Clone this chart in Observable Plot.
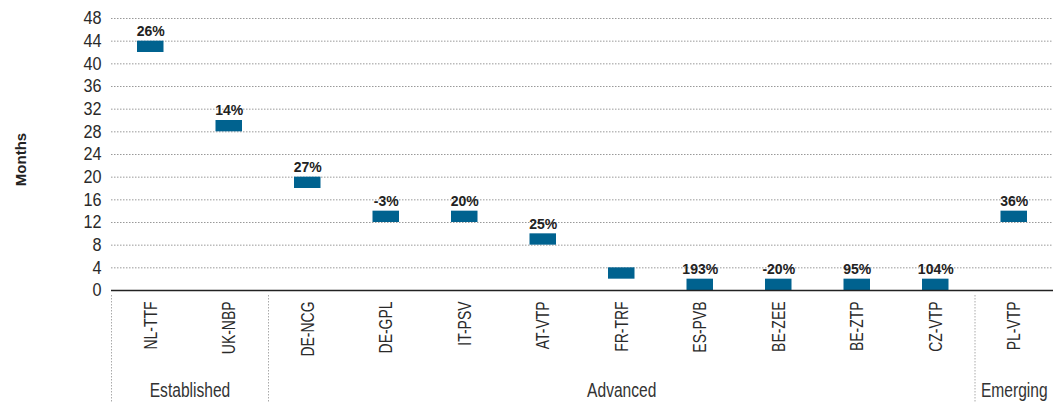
<!DOCTYPE html>
<html>
<head>
<meta charset="utf-8">
<script src="https://cdn.jsdelivr.net/npm/d3@7"></script>
<script src="https://cdn.jsdelivr.net/npm/@observablehq/plot@0.6"></script>
<style>
  html, body { margin: 0; padding: 0; background: #fff; }
  #chart svg { display: block; }
</style>
</head>
<body>
<div id="chart"></div>
<script>
// ---- data ----
const hubs = ["NL-TTF","UK-NBP","DE-NCG","DE-GPL","IT-PSV","AT-VTP","FR-TRF","ES-PVB","BE-ZEE","BE-ZTP","CZ-VTP","PL-VTP"];
const lowMonths  = [42, 28, 18, 12, 12, 8, 2, 0, 0, 0, 0, 12];
const highMonths = [44, 30, 20, 14, 14, 10, 4, 2, 2, 2, 2, 14];
const changeLabels = ["26%","14%","27%","-3%","20%","25%","","193%","-20%","95%","104%","36%"];
const groupNames = ["Established","Advanced","Emerging"];
const groupFirst = ["NL-TTF","DE-NCG","PL-VTP"];
const groupSize = [2, 9, 1];
const yTicks = [0,4,8,12,16,20,24,28,32,36,40,44,48];

const data = hubs.map((h, i) => ({hub: h, low: lowMonths[i], high: highMonths[i], label: changeLabels[i]}));

// ---- layout ----
const W = 1053, H = 403;
const mL = 111, mR = 0, mT = 18, mB = 113;
const step = (W - mL - mR) / hubs.length;
const frameH = H - mT - mB;
const FONT = '"Liberation Sans", Arial, sans-serif';
const BLUE = "#00628f";

const groupMarks = groupNames.map((g, i) => Plot.text([groupFirst[i]], {
  x: d => d, text: () => g, frameAnchor: "bottom", lineAnchor: "middle", dy: 100,
  dx: (groupSize[i] / 2 - 0.5) * step, fontSize: 20.5, fill: "#333"
}));

const plot = Plot.plot({
  width: W, height: H,
  marginLeft: mL, marginRight: mR, marginTop: mT, marginBottom: mB,
  style: {fontFamily: FONT, color: "#2a2a2a", background: "#fff"},
  x: {type: "band", domain: hubs, padding: 0, round: false, label: null},
  y: {domain: [0, 48], label: null},
  marks: [
    Plot.gridY(yTicks.filter(t => t > 0), {stroke: "#999", strokeOpacity: 1, strokeDasharray: "1.5,1.5"}),
    Plot.axisY(yTicks, {tickSize: 0, tickPadding: 10, fontSize: 18, label: null}),
    Plot.axisX({tickSize: 0, tickPadding: 11, tickRotate: -90, fontSize: 18.6, label: null}),
    Plot.ruleX(groupFirst, {x: d => d, dx: -step / 2, insetTop: frameH + 5, insetBottom: -mB,
      stroke: "#aaa", strokeDasharray: "1.5,1.5"}),
    Plot.barY(data, {x: "hub", y1: "low", y2: "high", fill: BLUE, insetLeft: 26, insetRight: 26}),
    Plot.text(data, {x: "hub", y: "high", text: "label", dy: -9.5, fontSize: 14, fontWeight: "bold", fill: "#222"}),
    Plot.ruleY([0], {stroke: "#222", strokeWidth: 1.5}),
    Plot.text(["Months"], {frameAnchor: "left", textAnchor: "middle", dx: -90, dy: 5, rotate: -90,
      fontSize: 15, fontWeight: "bold", fill: "#222"}),
    ...groupMarks
  ]
});
document.getElementById("chart").appendChild(plot);

// emulate the reference's condensed typeface by narrowing glyphs
function condense(selector, factor, filter) {
  plot.querySelectorAll(selector).forEach(t => {
    if (filter && !filter(t)) return;
    const L = t.getComputedTextLength();
    if (L > 0) {
      t.setAttribute("textLength", (L * factor).toFixed(2));
      t.setAttribute("lengthAdjust", "spacingAndGlyphs");
    }
  });
}
condense('g[aria-label="x-axis tick label"] text', 0.75);
condense('g[aria-label="y-axis tick label"] text', 0.9);
condense('text', 0.76, t => groupNames.includes(t.textContent.trim()));
</script>
</body>
</html>
